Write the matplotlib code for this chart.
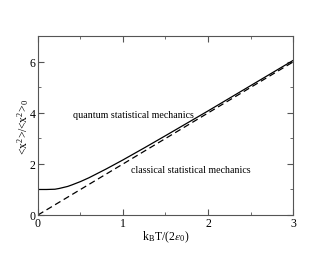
import matplotlib.pyplot as plt
from matplotlib.ticker import MultipleLocator

plt.rcParams['font.family'] = ['Liberation Serif', 'DejaVu Serif']
plt.rcParams['mathtext.fontset'] = 'stix'

# quantum result
t_quant = [0.0, 0.1, 0.2, 0.25, 0.3, 0.35, 0.4, 0.5, 0.6, 0.7, 0.8, 1.0, 1.25, 1.5, 2.0, 2.5, 3.0]
y_quant = [1.0, 1.0, 1.01, 1.04, 1.08, 1.12, 1.18, 1.31, 1.46, 1.63, 1.80, 2.16, 2.63, 3.11, 4.08, 5.07, 6.06]

# classical result
t_class = [0.0, 3.0]
y_class = [0.0, 6.0]

fig = plt.figure(figsize=(3.3, 2.55), dpi=100)
ax = fig.add_axes([0.115, 0.153, 0.773, 0.7])

ax.plot(t_quant, y_quant, color='black', lw=0.9)
ax.plot(t_class, y_class, color='black', lw=0.9, ls=(0, (5, 3)))

ax.text(0.41, 3.96, 'quantum statistical mechanics', fontsize=7.2, va='center')
ax.text(1.09, 1.78, 'classical statistical mechanics', fontsize=7.2, va='center')

ax.set_xlim(0, 3)
ax.set_ylim(0, 7)
ax.xaxis.set_major_locator(MultipleLocator(1))
ax.xaxis.set_minor_locator(MultipleLocator(0.5))
ax.yaxis.set_major_locator(MultipleLocator(2))
ax.yaxis.set_minor_locator(MultipleLocator(1))
ax.tick_params(which='both', direction='in', top=True, right=True, color='#555555',
               labelsize=8.5, pad=1.5)
ax.tick_params(which='major', length=4)
ax.tick_params(which='minor', length=2)
for s in ax.spines.values():
    s.set_color('#555555')
    s.set_linewidth(0.8)

ax.set_xlabel(r'k$_\mathregular{B}$T/(2$\epsilon_\mathregular{0}$)', fontsize=8.5, labelpad=0)
ax.set_ylabel(r'<x$^\mathregular{2}$>/<x$^\mathregular{2}$>$_\mathregular{0}$', fontsize=8.5, labelpad=-1)

fig.savefig('out.png', dpi=100)
